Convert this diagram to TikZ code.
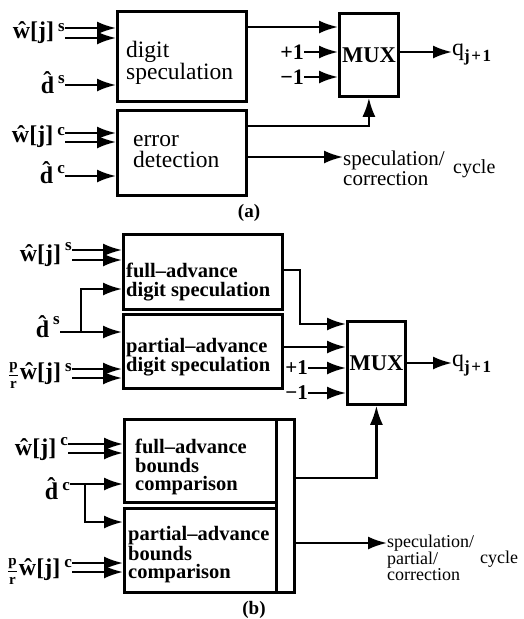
\documentclass[tikz,border=0pt]{standalone}
\usepackage{fontspec}
\setmainfont{Liberation Serif}
\usetikzlibrary{arrows.meta}

% raised superscript on the input labels
\newcommand\upidx[2][8pt]{\,\raisebox{#1}{\fontsize{17}{17}\selectfont #2}}
% the p/r prefactor
\newcommand\pfrac{{\fontsize{15}{15}\selectfont\ensuremath{\displaystyle\frac{\mathbf{p}}{\mathbf{r}}}}\kern1pt}

\tikzset{
  blk/.style={draw, line width=2.8pt, inner sep=0pt, anchor=north west},
  conn/.style={line width=2.3pt, -{Latex[length=19pt,width=13pt]}},
  lab/.style={inner sep=0pt, anchor=base east, font=\fontsize{24}{24}\selectfont\bfseries},
  txa/.style={inner sep=0pt, anchor=west, align=left, font=\fontsize{23.5}{21}\selectfont},
  txb/.style={inner sep=0pt, anchor=west, align=left, font=\fontsize{20.5}{18.5}\selectfont\bfseries},
  muxt/.style={font=\fontsize{22.5}{22.5}\selectfont\bfseries},
  sig/.style={inner sep=0pt, anchor=east, font=\fontsize{22}{22}\selectfont\bfseries},
  outq/.style={inner sep=0pt, anchor=west, font=\fontsize{24}{24}\selectfont},
  note/.style={inner sep=0pt, anchor=north west, align=left},
  captxt/.style={inner sep=0pt, font=\fontsize{19}{19}\selectfont\bfseries},
}
\newcommand\qout{q\raisebox{-6pt}{\fontsize{17}{17}\selectfont\bfseries j\kern1.5pt+\kern1.5pt1}}

\begin{document}
\begin{tikzpicture}[x=1pt,y=-1pt]
\useasboundingbox (0,0) rectangle (523,619);

% ---------------- (a) ----------------
\node[blk, minimum width=129pt, minimum height=90pt] (ds) at (116,10) {};
\node[blk, minimum width=129pt, minimum height=85pt] (ed) at (116,109) {};
\node[blk, minimum width=59pt, minimum height=83pt] (muxA) at (338,12) {};
\node[muxt] (muxAt) at (muxA.center) {MUX};

\node[txa] (dst) at (126,63) {digit\\speculation};
\node[txa] (edt) at (133,152) {error\\detection};

\node[lab] (wsA) at (65,38) {\^{w}[j]\upidx[7pt]{s}};
\node[lab] (dsA) at (65,93) {\^{d}\upidx[10pt]{s}};
\node[lab] (wcA) at (65,142) {\^{w}[j]\upidx[7pt]{c}};
\node[lab] (dcA) at (65,183) {\^{d}\upidx[10pt]{c}};

\draw[conn] (wsA.east |- 0,28) -- (ds.west |- 0,28);
\draw[conn] (wsA.east |- 0,38) -- (ds.west |- 0,38);
\draw[conn] (dsA.east |- 0,85) -- (ds.west |- 0,85);
\draw[conn] (wcA.east |- 0,133) -- (ed.west |- 0,133);
\draw[conn] (wcA.east |- 0,142) -- (ed.west |- 0,142);
\draw[conn] (dcA.east |- 0,176) -- (ed.west |- 0,176);

\node[sig] (p1A) at (304,52) {+1};
\node[sig] (m1A) at (304,77) {−1};
\draw[conn] (ds.east |- 0,27) -- (muxA.west |- 0,27);
\draw[conn] (p1A.east) -- (muxA.west |- p1A.east);
\draw[conn] (m1A.east) -- (muxA.west |- m1A.east);
\draw[conn] (ed.east |- 0,126) -| (muxA.south);

\node[outq] (qA) at (452,55) {\qout};
\draw[conn] (muxA.east |- 0,52) -- (qA.west |- 0,52);

\node[note, font=\fontsize{21}{16.5}\selectfont] (scA) at (343,151) {speculation/\\correction};
\node[inner sep=0pt, anchor=base west, font=\fontsize{20}{20}\selectfont] (cyA) at (453,173) {cycle};
\draw[conn] (ed.east |- 0,157) -- (scA.west |- 0,157);

\node[captxt] (capA) at (249,213) {(a)};

% ---------------- (b) ----------------
\node[blk, minimum width=159pt, minimum height=75pt] (fads) at (122,233) {};
\node[blk, minimum width=159pt, minimum height=74pt] (pads) at (122,313) {};
\node[blk, minimum width=58pt, minimum height=83pt] (muxB) at (346,320) {};
\node[muxt] (muxBt) at (muxB.center) {MUX};
\node[blk, minimum width=152pt, minimum height=83pt] (fab) at (123,418) {};
\node[blk, minimum width=152pt, minimum height=84pt] (pab) at (123,507) {};
\node[blk, minimum width=18pt, minimum height=173pt] (bar) at (275,418) {};

\node[txb] (fadst) at (126,282) {full–advance\\digit speculation};
\node[txb] (padst) at (126,357) {partial–advance\\digit speculation};
\node[txb] (fabt) at (135,467) {full–advance\\bounds\\comparison};
\node[txb] (pabt) at (128,555) {partial–advance\\bounds\\comparison};

\node[lab] (wsB) at (72,261) {\^{w}[j]\upidx[11pt]{s}};
\node[lab] (dsB) at (60,337) {\^{d}\upidx[13pt]{s}};
\node[lab] (psB) at (72,379) {\pfrac\^{w}[j]\upidx[8pt]{s}};
\node[lab] (wcB) at (68,455) {\^{w}[j]\upidx[10pt]{c}};
\node[lab] (dcB) at (70,499) {\^{d}\upidx[9pt]{c}};
\node[lab] (pcB) at (72,575) {\pfrac\^{w}[j]\upidx[8pt]{c}};

\draw[conn] (wsB.east |- 0,250) -- (fads.west |- 0,250);
\draw[conn] (wsB.east |- 0,260) -- (fads.west |- 0,260);
\coordinate (brS) at (81,332);
\draw[conn] (dsB.east |- 0,332) -- (pads.west |- 0,332);
\draw[conn] (brS) |- (fads.west |- 0,289);
\draw[conn] (psB.east |- 0,369) -- (pads.west |- 0,369);
\draw[conn] (psB.east |- 0,378) -- (pads.west |- 0,378);

\draw[conn] (wcB.east |- 0,444) -- (fab.west |- 0,444);
\draw[conn] (wcB.east |- 0,453) -- (fab.west |- 0,453);
\coordinate (brC) at (85,484);
\draw[conn] (dcB.east |- 0,484) -- (fab.west |- 0,484);
\draw[conn] (brC) |- (pab.west |- 0,522);
\draw[conn] (pcB.east |- 0,563) -- (pab.west |- 0,563);
\draw[conn] (pcB.east |- 0,572) -- (pab.west |- 0,572);

\coordinate (bendF) at (300,324);
\draw[conn] (fads.east |- 0,270) -| (bendF) -- (muxB.west |- bendF);
\draw[conn] (pads.east |- 0,347) -- (muxB.west |- 0,347);
\node[sig, font=\fontsize{21}{21}\selectfont\bfseries] (p1B) at (308,368) {+1};
\node[sig, font=\fontsize{21}{21}\selectfont\bfseries] (m1B) at (308,393) {−1};
\draw[conn] (p1B.east) -- (muxB.west |- p1B.east);
\draw[conn] (m1B.east) -- (muxB.west |- m1B.east);
\draw[conn] (bar.east |- 0,478) -| (muxB.south);

\node[outq] (qB) at (452,366) {\qout};
\draw[conn] (muxB.east |- 0,363) -- (qB.west |- 0,363);

\node[note, font=\fontsize{18}{16.5}\selectfont] (scB) at (387,535) {speculation/\\partial/\\correction};
\node[inner sep=0pt, anchor=base west, font=\fontsize{18}{18}\selectfont] (cyB) at (480,563) {cycle};
\draw[conn] (bar.east |- 0,543) -- (scB.west |- 0,543);

\node[captxt] (capB) at (254,610) {(b)};
\end{tikzpicture}
\end{document}
